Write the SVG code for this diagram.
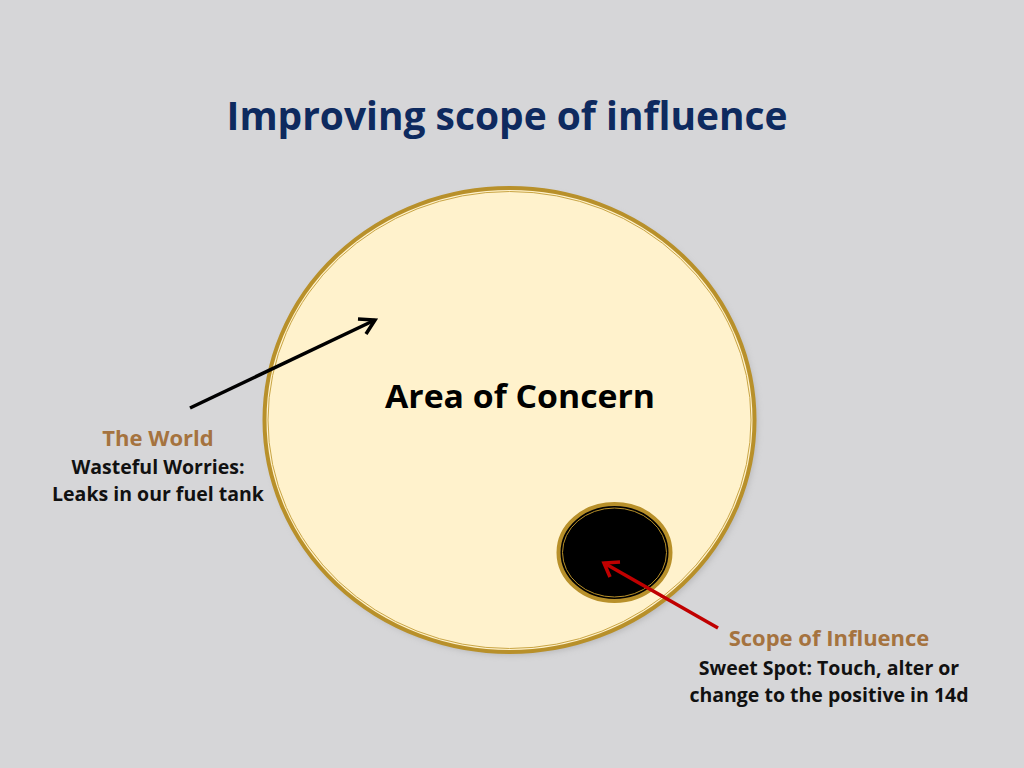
<svg xmlns="http://www.w3.org/2000/svg" width="1024" height="768" viewBox="0 0 1024 768">
<defs>
<style>
.t{font-family:"Open Sans","Liberation Sans",sans-serif;font-weight:bold;text-anchor:middle}
.lbl{font-size:19.5px;fill:#111}
.head{font-size:22px;fill:#a5733f}
</style>
<filter id="sh" x="-10%" y="-10%" width="120%" height="120%"><feGaussianBlur stdDeviation="3"/></filter>
</defs>
<rect width="1024" height="768" fill="#d6d6d8"/>
<text class="t" x="507" y="130" font-size="39" fill="#0e2a5f" textLength="561" lengthAdjust="spacingAndGlyphs">Improving scope of influence</text>
<g id="concern">
<ellipse cx="512" cy="423" rx="245" ry="232" fill="#999" opacity="0.5" filter="url(#sh)"/>
<ellipse cx="509.5" cy="420" rx="245" ry="232" fill="#fff2cc" stroke="#b8902a" stroke-width="4"/>
<ellipse cx="509.5" cy="420" rx="241.5" ry="228.5" fill="none" stroke="#c9a545" stroke-width="1"/>
<text class="t" x="520" y="408" font-size="33" fill="#000" textLength="270" lengthAdjust="spacingAndGlyphs">Area of Concern</text>
</g>
<g id="influence">
<ellipse cx="614.5" cy="552.5" rx="56" ry="48.5" fill="#000" stroke="#b8902a" stroke-width="4"/>
<ellipse cx="614.5" cy="552.5" rx="52" ry="44.5" fill="none" stroke="#b8902a" stroke-width="1"/>
</g>
<g id="connectors">
<line x1="190" y1="408" x2="375" y2="320" stroke="#000" stroke-width="3.5"/>
<path d="M358,319 L375,320 L366,334" fill="none" stroke="#000" stroke-width="3.5"/>
<line x1="718" y1="628" x2="604" y2="563" stroke="#c00000" stroke-width="3.5"/>
<path d="M620,562 L604,563 L610,577" fill="none" stroke="#c00000" stroke-width="3.5"/>
</g>
<g id="world">
<text class="t head" x="158" y="446">The World</text>
<text class="t lbl" x="158" y="474">Wasteful Worries:</text>
<text class="t lbl" x="158" y="501">Leaks in our fuel tank</text>
</g>
<g id="scope">
<text class="t head" x="829" y="646">Scope of Influence</text>
<text class="t lbl" x="829" y="675">Sweet Spot: Touch, alter or</text>
<text class="t lbl" x="829" y="702">change to the positive in 14d</text>
</g>
</svg>
